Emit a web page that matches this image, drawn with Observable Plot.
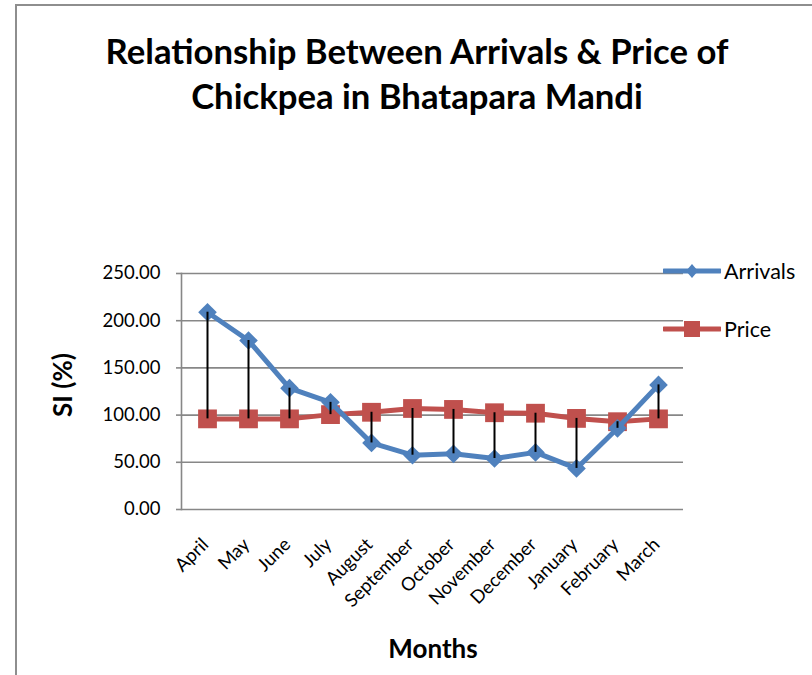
<!DOCTYPE html>
<html>
<head>
<meta charset="utf-8">
<script src="https://cdn.jsdelivr.net/npm/d3@7"></script>
<script src="https://cdn.jsdelivr.net/npm/@observablehq/plot@0.6"></script>
<style>
  html, body { margin: 0; padding: 0; background: white; }
  #wrap { position: relative; width: 812px; height: 675px; overflow: hidden; font-family: Lato, "Liberation Sans", sans-serif; }
  #border { position: absolute; left: 15px; top: 4px; width: 900px; height: 900px; border-left: 2px solid #8e8e8e; border-top: 2px solid #8e8e8e; }
  #title { position: absolute; left: 0; width: 834px; top: 29px; text-align: center; font-weight: bold; font-size: 34.7px; line-height: 44.6px; color: #000; }
  #ylab { position: absolute; left: 62px; top: 385px; transform: translate(-50%, -50%) rotate(-90deg); font-weight: bold; font-size: 26px; white-space: nowrap; }
  #xlab { position: absolute; left: 433px; top: 648px; transform: translate(-50%, -50%); font-weight: bold; font-size: 26px; white-space: nowrap; }
  #chart { position: absolute; left: 0; top: 0; }
  .leg { position: absolute; left: 663px; height: 30px; display: flex; align-items: center; font-size: 21.5px; }
  .leg svg { display: block; margin-right: 3px; }
</style>
</head>
<body>
<div id="wrap">
  <div id="border"></div>
  <div id="chart"></div>
  <div id="title">Relationship Between Arrivals &amp; Price of<br>Chickpea in Bhatapara Mandi</div>
  <div id="ylab">SI (%)</div>
  <div id="xlab">Months</div>
  <div class="leg" style="top:256px"><svg width="58" height="30"><line x1="1" x2="57" y1="15" y2="15" stroke="#4F81BD" stroke-width="5" stroke-linecap="round"/><path d="M29,8 L35,15 L29,22 L23,15 Z" fill="#4F81BD"/></svg><span>Arrivals</span></div>
  <div class="leg" style="top:314px"><svg width="58" height="30"><line x1="1" x2="57" y1="15" y2="15" stroke="#C0504D" stroke-width="5" stroke-linecap="round"/><rect x="21" y="7" width="16" height="16" fill="#C0504D"/></svg><span>Price</span></div>
</div>
<script>
const months = ["April","May","June","July","August","September","October","November","December","January","February","March"];
const arrivals = [209, 179, 128.5, 113.5, 70.5, 57.5, 59, 54, 60.5, 43.5, 86, 132];
const price = [96, 96, 96, 100.5, 103, 107, 106, 102.5, 102, 96.5, 93, 96];
const yTicks = [0, 50, 100, 150, 200, 250];

const data = months.map((m, i) => ({month: m, arrivals: arrivals[i], price: price[i]}));

const chart = Plot.plot({
  width: 812,
  height: 675,
  marginLeft: 181,
  marginRight: 129,
  marginTop: 273,
  marginBottom: 166,
  style: {fontFamily: "Lato, 'Liberation Sans', sans-serif", fontSize: "18.5px", color: "black", background: "transparent", overflow: "visible"},
  x: {type: "point", domain: months, padding: 0.5},
  y: {domain: [0, 250]},
  marks: [
    Plot.gridY(yTicks, {stroke: "#878787", strokeOpacity: 1, strokeWidth: 1.6}),
    Plot.frame({anchor: "left", stroke: "#878787", strokeWidth: 1.6}),
    Plot.axisY(yTicks, {tickSize: 5, tickPadding: 16, stroke: "#878787", strokeWidth: 1.6, fill: "black", tickFormat: d => d.toFixed(2), label: null, fontSize: 18.5}),
    Plot.axisX({tickSize: 0, tickRotate: -45, tickPadding: 32, dx: -2, label: null, fill: "black", fontSize: 18.5}),
    Plot.line(data, {x: "month", y: "price", stroke: "#C0504D", strokeWidth: 5}),
    Plot.dot(data, {x: "month", y: "price", symbol: "square", r: 10.6, fill: "#C0504D"}),
    Plot.line(data, {x: "month", y: "arrivals", stroke: "#4F81BD", strokeWidth: 5}),
    Plot.dot(data, {x: "month", y: "arrivals", symbol: "diamond2", r: 8.4, fill: "#4F81BD"}),
    Plot.ruleX(data, {x: "month", y1: "arrivals", y2: "price", stroke: "black", strokeWidth: 2})
  ]
});
document.getElementById("chart").appendChild(chart);
</script>
</body>
</html>
